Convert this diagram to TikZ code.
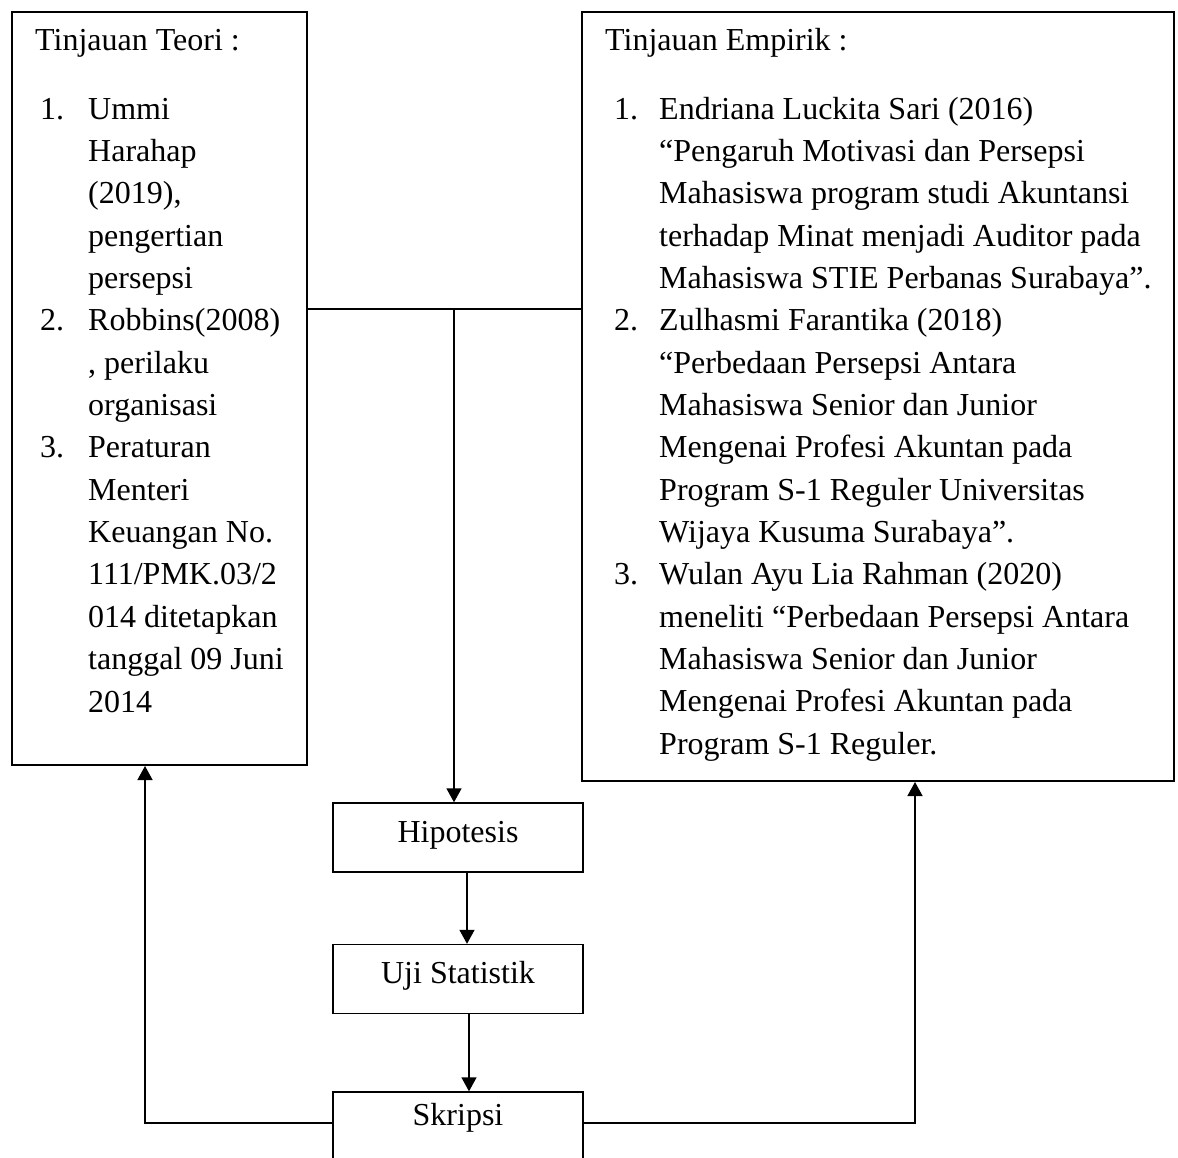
\documentclass[tikz,border=0pt]{standalone}
\usepackage{fontspec}
\setmainfont{Liberation Serif}
\usetikzlibrary{arrows.meta}
\tikzset{
  bigbox/.style={draw, line width=2pt, inner sep=0pt, anchor=north west},
  smallbox/.style={draw, line width=1.4pt, inner sep=0pt, minimum width=250pt, minimum height=69pt},
  txt/.style={anchor=base west, inner sep=0pt, font={\fontsize{32pt}{42.36pt}\selectfont}},
  para/.style={txt, text width=520pt, align=flush left},
  lbl/.style={inner sep=0pt, font={\fontsize{32pt}{42.36pt}\selectfont}},
  conn/.style={line width=1.5pt},
  arr/.style={conn, -{Triangle[length=14pt,width=15pt]}}
}
\begin{document}
\begin{tikzpicture}[x=1pt,y=-1pt]
\clip (0,0) rectangle (1178,1157);
\fill[white] (0,0) rectangle (1178,1157);
% boxes
\node[bigbox, minimum width=295pt, minimum height=753pt] (teori) at (10.5,11) {};
\node[bigbox, minimum width=592.5pt, minimum height=769pt] (empirik) at (580.5,11) {};
\node[smallbox] (hip) at (458,837.5) {};
\node[smallbox] (uji) at (458,979) {};
\node[smallbox, minimum height=88pt] (skr) at (458,1136) {};
\node[lbl, anchor=base] (hipt) at (458,842) {Hipotesis};
\node[lbl, anchor=base] (ujit) at (458,983) {Uji Statistik};
\node[lbl, anchor=base] (skrt) at (458,1125) {Skripsi};
% left text
\node[txt] (tt) at (35,50) {Tinjauan Teori :};
\node[txt] (tn1) at (40,119) {1.};
\node[para] (ti1) at (88,119) {Ummi\\Harahap\\(2019),\\pengertian\\persepsi};
\node[txt] (tn2) at (40,330.8) {2.};
\node[para] (ti2) at (88,330.8) {Robbins(2008)\\, perilaku\\organisasi};
\node[txt] (tn3) at (40,457.9) {3.};
\node[para] (ti3) at (88,457.9) {Peraturan\\Menteri\\Keuangan No.\\111/PMK.03/2\\014 ditetapkan\\tanggal 09 Juni\\2014};
% right text
\node[txt] (et) at (605,50) {Tinjauan Empirik :};
\node[txt] (en1) at (614,119) {1.};
\node[para] (ei1) at (659,119) {Endriana Luckita Sari (2016)\\``Pengaruh Motivasi dan Persepsi\\Mahasiswa program studi Akuntansi\\terhadap Minat menjadi Auditor pada\\Mahasiswa STIE Perbanas Surabaya''.};
\node[txt] (en2) at (614,330.8) {2.};
\node[para] (ei2) at (659,330.8) {Zulhasmi Farantika (2018)\\``Perbedaan Persepsi Antara\\Mahasiswa Senior dan Junior\\Mengenai Profesi Akuntan pada\\Program S-1 Reguler Universitas\\Wijaya Kusuma Surabaya''.};
\node[txt] (en3) at (614,584.9) {3.};
\node[para] (ei3) at (659,584.9) {Wulan Ayu Lia Rahman (2020)\\meneliti ``Perbedaan Persepsi Antara\\Mahasiswa Senior dan Junior\\Mengenai Profesi Akuntan pada\\Program S-1 Reguler.};
% connectors
\coordinate (j) at (454,309);
\draw[conn] (teori.east |- j) -- (empirik.west |- j);
\draw[arr] (j) -- (j |- hip.north);
\draw[arr] ([xshift=9pt]hip.south) -- ([xshift=9pt]uji.north);
\draw[arr] ([xshift=11pt]uji.south) -- ([xshift=11pt]skr.north);
\coordinate (lc) at (145,1123);
\coordinate (rc) at (915,1123);
\draw[arr] (skr.west |- lc) -- (lc) -- (lc |- teori.south);
\draw[arr] (skr.east |- rc) -- (rc) -- (rc |- empirik.south);
\end{tikzpicture}
\end{document}
